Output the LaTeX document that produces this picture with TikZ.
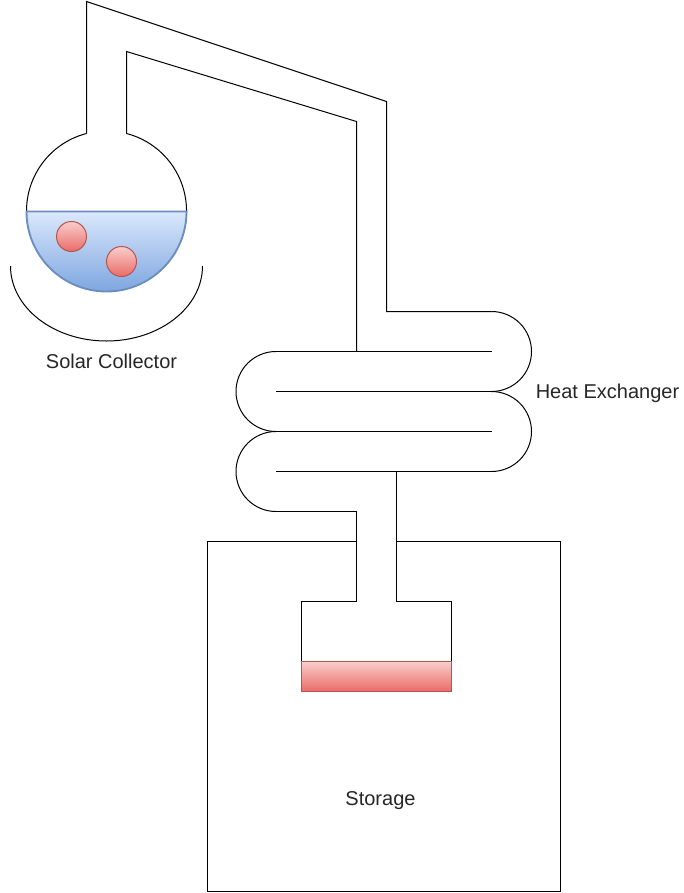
\documentclass[tikz,border=0pt]{standalone}
\usepackage{fontspec}
\setmainfont{Liberation Sans}
\definecolor{bloodtop}{HTML}{F8CECC}
\definecolor{bloodend}{HTML}{EA6B66}
\definecolor{bloodline}{HTML}{B85450}
\definecolor{watertop}{HTML}{DAE8FC}
\definecolor{waterend}{HTML}{7EA6E0}
\definecolor{waterline}{HTML}{6C8EBF}
\tikzset{
    pipe/.style={draw=black, line width=0.75pt},
    redfill/.style={draw=bloodline, line width=0.75pt, top color=bloodtop, bottom color=bloodend},
    bluefill/.style={draw=waterline, line width=1.4pt, top color=watertop, bottom color=waterend},
    caption/.style={font=\fontsize{15pt}{18pt}\selectfont, text=black!85, inner sep=0pt, text depth=0pt}
}

\begin{document}
\begin{tikzpicture}[x=0.75pt, y=-0.75pt]
    \useasboundingbox (0, 0) rectangle (684, 893);

    % flask and the pipe above it
    \draw[pipe] (86.5, 133.5) arc[start angle=-104.5, end angle=-435.5, radius=80]
        -- (126.5, 51.5) -- (356.5, 121.5) -- (356.5, 351.5);
    \draw[pipe] (86.5, 133.5) -- (86.5, 1.5) -- (386.5, 101.5) -- (386.5, 311.5) -- (491.5, 311.5);
    \draw[bluefill] (26.5, 211.5) arc[start angle=180, end angle=0, radius=80] -- cycle;
    \foreach \x / \y in {71.5/236.5, 121.5/261.5}
        \draw[redfill] (\x, \y) circle[radius=15];
    \draw[pipe] (10.5, 266) arc[x radius=96, y radius=75, start angle=180, end angle=0];

    % heat exchanger coil
    \foreach \y in {311.5, 391.5}
        \draw[pipe] (491.5, \y) arc[start angle=-90, end angle=90, radius=40];
    \foreach \y in {351.5, 431.5}
        \draw[pipe] (276, \y) arc[start angle=-90, end angle=-270, radius=40];
    \foreach \y in {351.5, 391.5, 431.5, 471.5}
        \draw[pipe] (276, \y) -- (491.5, \y);

    % pipe down into the storage
    \draw[pipe] (276, 511.5) -- (356.5, 511.5) -- (356.5, 601.5) -- (301.5, 601.5) -- (301.5, 661.5);
    \draw[pipe] (396.5, 471.5) -- (396.5, 601.5) -- (451.5, 601.5) -- (451.5, 661.5);
    \draw[pipe] (356.5, 541.5) -- (207.5, 541.5) -- (207.5, 891.5) -- (560.5, 891.5) -- (560.5, 541.5) -- (396.5, 541.5);
    \draw[redfill] (301.5, 661.5) rectangle (451.5, 691.5);

    \node[caption] (solar) at (111.5, 361.5) {Solar Collector};
    \node[caption] (exchanger) at (607.5, 391.5) {Heat Exchanger};
    \node[caption] (storage) at (380.5, 798.5) {Storage};
\end{tikzpicture}
\end{document}
